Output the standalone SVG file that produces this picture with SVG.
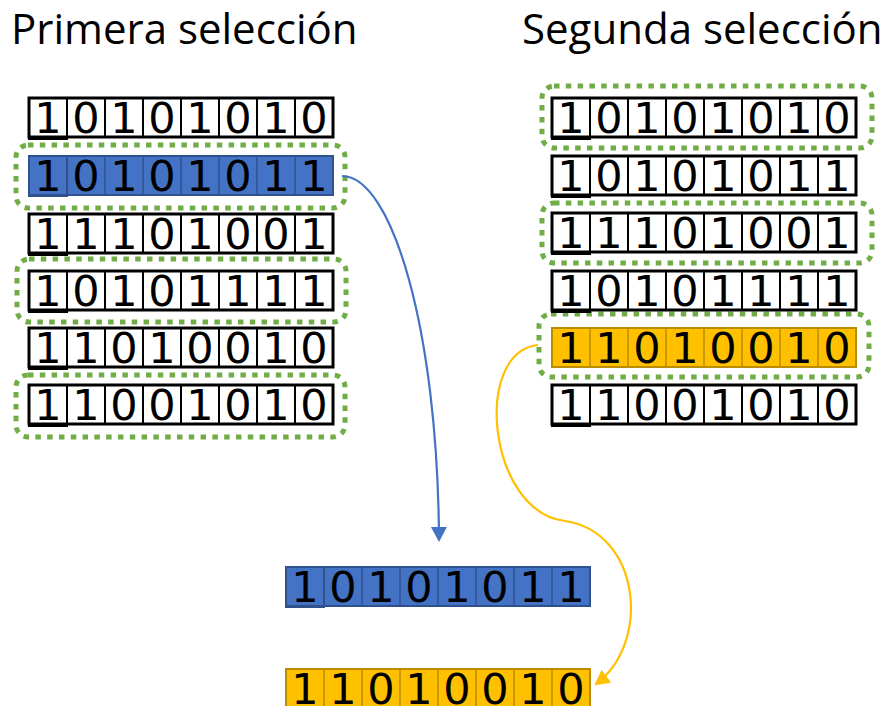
<svg xmlns="http://www.w3.org/2000/svg" width="888" height="706" viewBox="0 0 888 706">
<defs>
<style>
.title{font-family:"Open Sans","Noto Sans",sans-serif;font-size:42px;fill:#000}
.d{font-family:"DejaVu Sans",sans-serif;font-size:43px;fill:#000;text-anchor:middle}
.w{fill:#fff;stroke:#000;stroke-width:3}
.wd{stroke:#000;stroke-width:2;fill:none}
.b{fill:#4472C4;stroke:#2F528F;stroke-width:2}
.bd{stroke:#2F528F;stroke-width:1.5;fill:none}
.o{fill:#FFC000;stroke:#BC8C00;stroke-width:2}
.od{stroke:#BC8C00;stroke-width:1.5;fill:none}
.q{fill:none;stroke-width:2}
.sel{fill:none;stroke:#70AD47;stroke-width:5;stroke-dasharray:5.5 6.3}
</style>
<path id="dv" d="M38,0V39M76,0V39M114,0V39M152,0V39M190,0V39M228,0V39M266,0V39"/>
<marker id="ab" markerWidth="18" markerHeight="18" refX="13" refY="8" orient="auto" markerUnits="userSpaceOnUse"><path d="M0,0L15,8L0,16Z" fill="#4472C4"/></marker>
<marker id="ao" markerWidth="18" markerHeight="18" refX="13" refY="8" orient="auto" markerUnits="userSpaceOnUse"><path d="M0,0L15,8L0,16Z" fill="#FFC000"/></marker>
</defs>
<text class="title" x="11" y="44">Primera selección</text>
<text class="title" x="522" y="44">Segunda selección</text>

<g id="sel-left">
<rect class="sel" x="16" y="145" width="329" height="63" rx="12"/>
<rect class="sel" x="17" y="259" width="329" height="63" rx="12"/>
<rect class="sel" x="16" y="375" width="329" height="62" rx="12"/>
</g>
<g id="sel-right">
<rect class="sel" x="542" y="86" width="330" height="62" rx="12"/>
<rect class="sel" x="542" y="203" width="330" height="60" rx="12"/>
<rect class="sel" x="539" y="314" width="330" height="63" rx="12"/>
</g>

<g id="L1" transform="translate(29,98)"><rect class="w" width="304" height="39"/><use href="#dv" class="wd"/><rect class="q" stroke="#000" width="38" height="41"/><text class="d" x="19 57 95 133 171 209 247 285" y="35">10101010</text></g>
<g id="L2" transform="translate(29,156)"><rect class="b" width="304" height="39"/><use href="#dv" class="bd"/><rect class="q" stroke="#2F528F" width="38" height="40"/><text class="d" x="19 57 95 133 171 209 247 285" y="35">10101011</text></g>
<g id="L3" transform="translate(29,214)"><rect class="w" width="304" height="39"/><use href="#dv" class="wd"/><rect class="q" stroke="#000" width="38" height="41"/><text class="d" x="19 57 95 133 171 209 247 285" y="35">11101001</text></g>
<g id="L4" transform="translate(29,271)"><rect class="w" width="304" height="39"/><use href="#dv" class="wd"/><rect class="q" stroke="#000" width="38" height="41"/><text class="d" x="19 57 95 133 171 209 247 285" y="35">10101111</text></g>
<g id="L5" transform="translate(29,328)"><rect class="w" width="304" height="39"/><use href="#dv" class="wd"/><rect class="q" stroke="#000" width="38" height="41"/><text class="d" x="19 57 95 133 171 209 247 285" y="35">11010010</text></g>
<g id="L6" transform="translate(29,385)"><rect class="w" width="304" height="39"/><use href="#dv" class="wd"/><rect class="q" stroke="#000" width="38" height="41"/><text class="d" x="19 57 95 133 171 209 247 285" y="35">11001010</text></g>

<g id="R1" transform="translate(552,98)"><rect class="w" width="304" height="39"/><use href="#dv" class="wd"/><rect class="q" stroke="#000" width="38" height="41"/><text class="d" x="19 57 95 133 171 209 247 285" y="35">10101010</text></g>
<g id="R2" transform="translate(552,156)"><rect class="w" width="304" height="39"/><use href="#dv" class="wd"/><rect class="q" stroke="#000" width="38" height="41"/><text class="d" x="19 57 95 133 171 209 247 285" y="35">10101011</text></g>
<g id="R3" transform="translate(552,213)"><rect class="w" width="304" height="39"/><use href="#dv" class="wd"/><rect class="q" stroke="#000" width="38" height="41"/><text class="d" x="19 57 95 133 171 209 247 285" y="35">11101001</text></g>
<g id="R4" transform="translate(552,271)"><rect class="w" width="304" height="39"/><use href="#dv" class="wd"/><rect class="q" stroke="#000" width="38" height="41"/><text class="d" x="19 57 95 133 171 209 247 285" y="35">10101111</text></g>
<g id="R5" transform="translate(552,328)"><rect class="o" width="304" height="39"/><use href="#dv" class="od"/><text class="d" x="19 57 95 133 171 209 247 285" y="35">11010010</text></g>
<g id="R6" transform="translate(552,385)"><rect class="w" width="304" height="39"/><use href="#dv" class="wd"/><rect class="q" stroke="#000" width="38" height="41"/><text class="d" x="19 57 95 133 171 209 247 285" y="35">11001010</text></g>

<g id="C1" transform="translate(286,567)"><rect class="b" width="304" height="39"/><use href="#dv" class="bd"/><rect class="q" stroke="#2F528F" width="38" height="40"/><text class="d" x="19 57 95 133 171 209 247 285" y="35">10101011</text></g>
<g id="C2" transform="translate(286,669)"><rect class="o" width="304" height="39"/><use href="#dv" class="od"/><text class="d" x="19 57 95 133 171 209 247 285" y="35">11010010</text></g>

<g id="connectors" fill="none" stroke-width="2.2">
<path d="M342,176C392,176 438,330 439,540" stroke="#4472C4" marker-end="url(#ab)"/>
<path d="M538,345C472,352 488,512 565,521C640,532 652,642 596,684" stroke="#FFC000" marker-end="url(#ao)"/>
</g>
</svg>
